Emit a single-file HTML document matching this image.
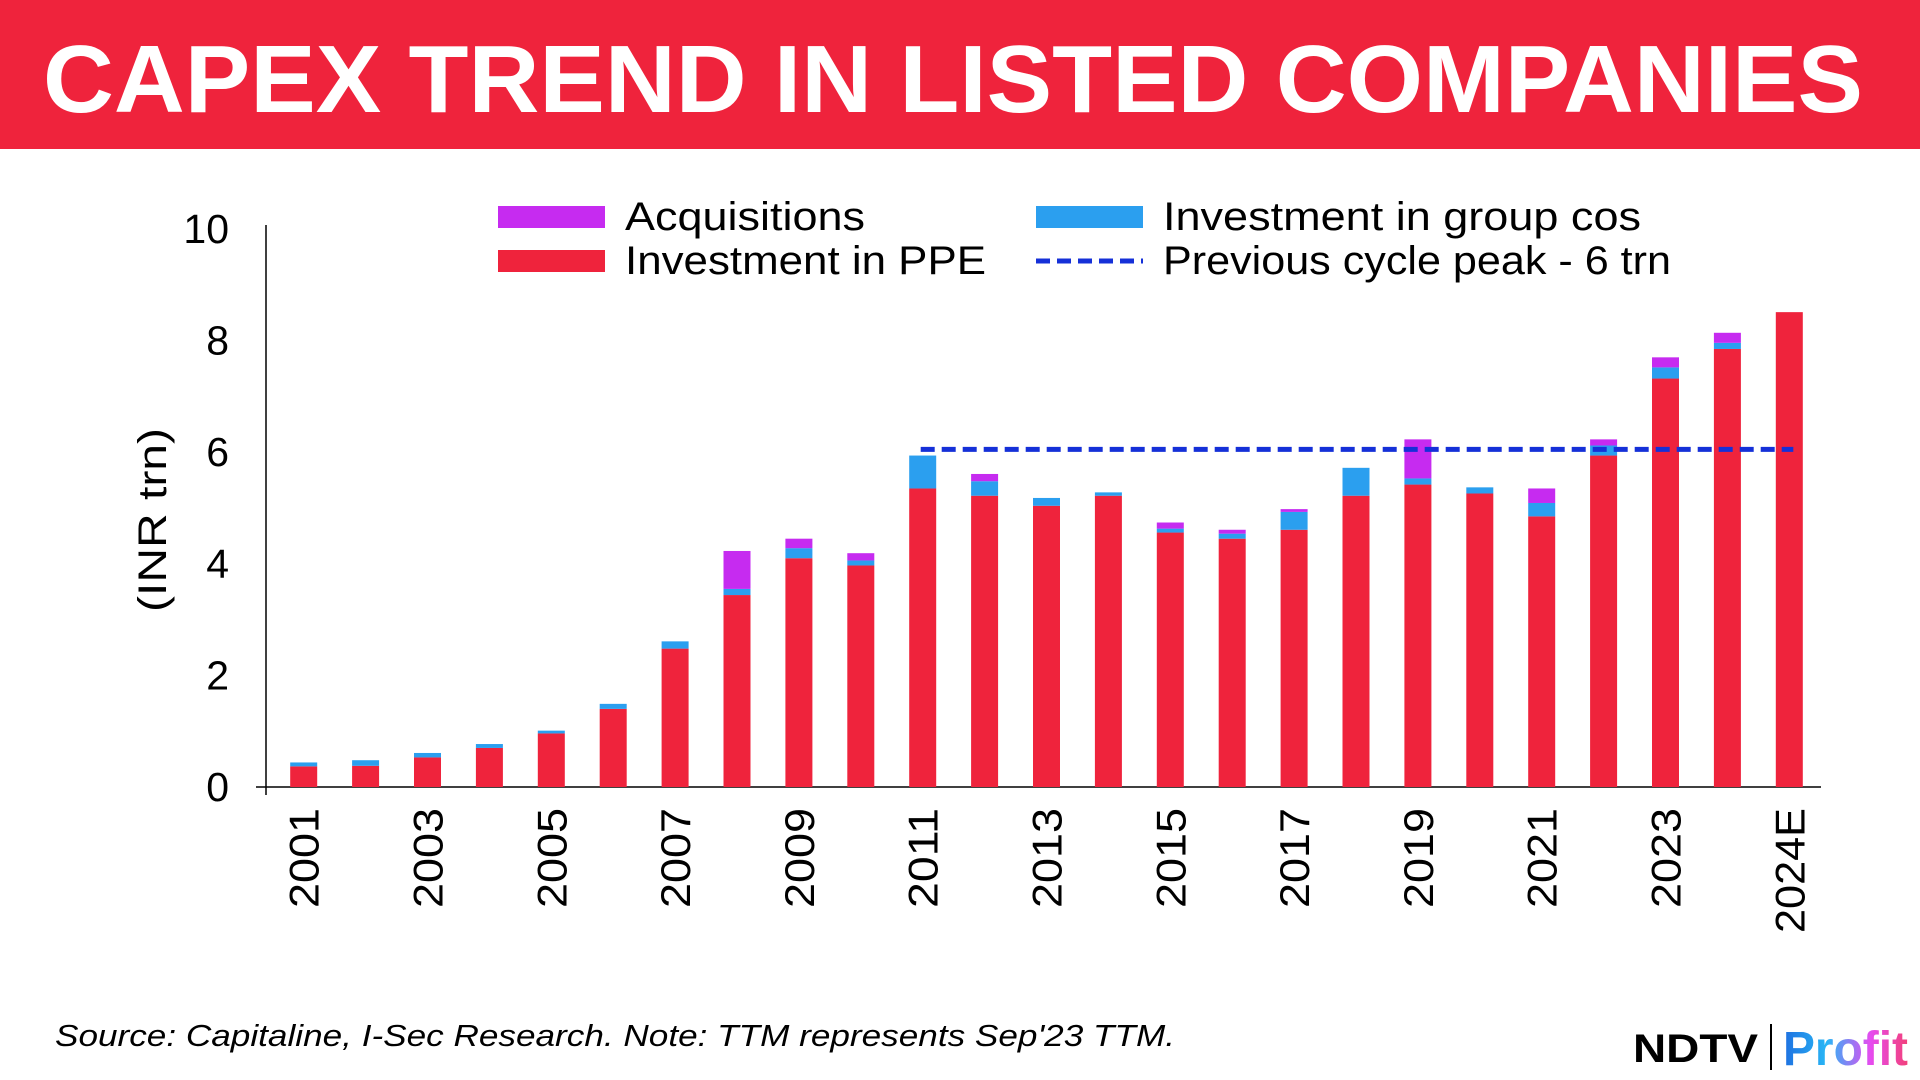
<!DOCTYPE html>
<html><head><meta charset="utf-8"><style>
html,body{margin:0;padding:0;background:#fff;}
body{width:1920px;height:1080px;position:relative;overflow:hidden;font-family:"Liberation Sans",sans-serif;}
#hdr{position:absolute;left:0;top:0;width:1920px;height:149px;background:#EF233C;}
</style></head><body>
<div id="hdr"></div>
<svg id="chart" width="1920" height="1080" style="position:absolute;left:0;top:0">
<text x="43" y="112" font-size="96" font-weight="bold" fill="#fff" textLength="1820" lengthAdjust="spacingAndGlyphs">CAPEX TREND IN LISTED COMPANIES</text>
</svg>
<script>
const categories=["2001","2002","2003","2004","2005","2006","2007","2008","2009","2010","2011","2012","2013","2014","2015","2016","2017","2018","2019","2020","2021","2022","2023","2024","2024E"];
const ppe=[0.37,0.38,0.53,0.70,0.96,1.40,2.48,3.44,4.10,3.97,5.35,5.22,5.04,5.22,4.56,4.45,4.61,5.22,5.42,5.26,4.85,5.94,7.32,7.85,8.51];
const groupCos=[0.07,0.10,0.08,0.07,0.05,0.09,0.13,0.11,0.18,0.09,0.59,0.26,0.14,0.06,0.07,0.09,0.32,0.50,0.11,0.11,0.24,0.18,0.20,0.11,0];
const acquisitions=[0,0,0,0,0,0,0,0.68,0.17,0.13,0,0.13,0,0,0.11,0.07,0.05,0,0.70,0,0.26,0.11,0.18,0.18,0];
const peakValue=6.05;
const yTicks=[0,2,4,6,8,10];
const xLabels=["2001","2003","2005","2007","2009","2011","2013","2015","2017","2019","2021","2023","2024E"];
const NS="http://www.w3.org/2000/svg";
const svg=document.getElementById('chart');
const y0=787,pxPerUnit=55.8;
const yS=v=>y0-v*pxPerUnit;
const x0=303.7,step=61.9;
const xS=i=>x0+i*step;
const bw=27;
function mk(t,a){const e=document.createElementNS(NS,t);for(const k in a)e.setAttribute(k,a[k]);svg.appendChild(e);return e;}
let e=mk('line',{x1:266,y1:225,x2:266,y2:795,stroke:'#000','stroke-width':1.5});


e=mk('line',{x1:256,y1:787,x2:1821,y2:787,stroke:'#000','stroke-width':1.5});


yTicks.forEach(v=>{
  const t=mk('text',{x:229,y:yS(v)+14,'text-anchor':'end','font-size':41,fill:'#000'});
  t.textContent=v;
  
  
});
e=mk('text',{x:0,y:0,'text-anchor':'middle','font-size':40,fill:'#000',textLength:184,lengthAdjust:'spacingAndGlyphs',transform:'translate(166,520) rotate(-90)'});
e.textContent='(INR trn)';


categories.forEach((c,i)=>{
  const x=xS(i)-bw/2;
  let b=mk('rect',{x:x,y:yS(ppe[i]),width:bw,height:ppe[i]*pxPerUnit,fill:'#EF233C'});
  
  
  if(groupCos[i]>0){
    b=mk('rect',{x:x,y:yS(ppe[i]+groupCos[i]),width:bw,height:groupCos[i]*pxPerUnit,fill:'#2B9FEF'});
    
    
  }
  if(acquisitions[i]>0){
    b=mk('rect',{x:x,y:yS(ppe[i]+groupCos[i]+acquisitions[i]),width:bw,height:acquisitions[i]*pxPerUnit,fill:'#C62BF0'});
    
    
  }
  if(xLabels.includes(c)){
    const t=mk('text',{x:0,y:0,'text-anchor':'end','font-size':42,fill:'#000',textLength:c.length*25,lengthAdjust:'spacingAndGlyphs',transform:`translate(${xS(i)+15},808) rotate(-90)`});
    t.textContent=c;
    
    
  }
});
e=mk('line',{x1:xS(10)-2,y1:yS(peakValue),x2:xS(24)+4,y2:yS(peakValue),stroke:'#1530D8','stroke-width':5,'stroke-dasharray':'14,7'});


const leg=[[498,206,'#C62BF0','Acquisitions',0,240],[498,250,'#EF233C','Investment in PPE',0,361],[1036,206,'#2B9FEF','Investment in group cos',0,478],[1036,250,'#1530D8','Previous cycle peak - 6 trn',1,508]];
leg.forEach(l=>{
  if(l[4]){const d=mk('line',{x1:l[0],y1:l[1]+11,x2:l[0]+107,y2:l[1]+11,stroke:l[2],'stroke-width':5,'stroke-dasharray':'14,7'});
    
    }
  else{const r=mk('rect',{x:l[0],y:l[1],width:107,height:22,fill:l[2]});
    
    }
  const t=mk('text',{x:l[0]+127,y:l[1]+24,'font-size':40,fill:'#000',textLength:l[5],lengthAdjust:'spacingAndGlyphs'});
  t.textContent=l[3];
  
  
});
e=mk('text',{x:55,y:1046,'font-size':31,'font-style':'italic',fill:'#000',textLength:1120,lengthAdjust:'spacingAndGlyphs'});
e.textContent="Source: Capitaline, I-Sec Research. Note: TTM represents Sep'23 TTM.";


e=mk('text',{x:1633,y:1062,'font-size':40,'font-weight':'bold',fill:'#000',textLength:125,lengthAdjust:'spacingAndGlyphs'});
e.textContent='NDTV';


e=mk('line',{x1:1771,y1:1024,x2:1771,y2:1070,stroke:'#000','stroke-width':2});


const defs=mk('defs',{});
defs.innerHTML='<linearGradient id="pg" x1="0" x2="1"><stop offset="0" stop-color="#1E6FE0"/><stop offset="0.35" stop-color="#29B6F6"/><stop offset="0.7" stop-color="#E64BF0"/><stop offset="1" stop-color="#F2407A"/></linearGradient>';
e=mk('text',{x:1783,y:1065,'font-size':48,'font-weight':'bold',fill:'url(#pg)',textLength:125,lengthAdjust:'spacingAndGlyphs'});
e.textContent='Profit';


</script>
</body></html>
